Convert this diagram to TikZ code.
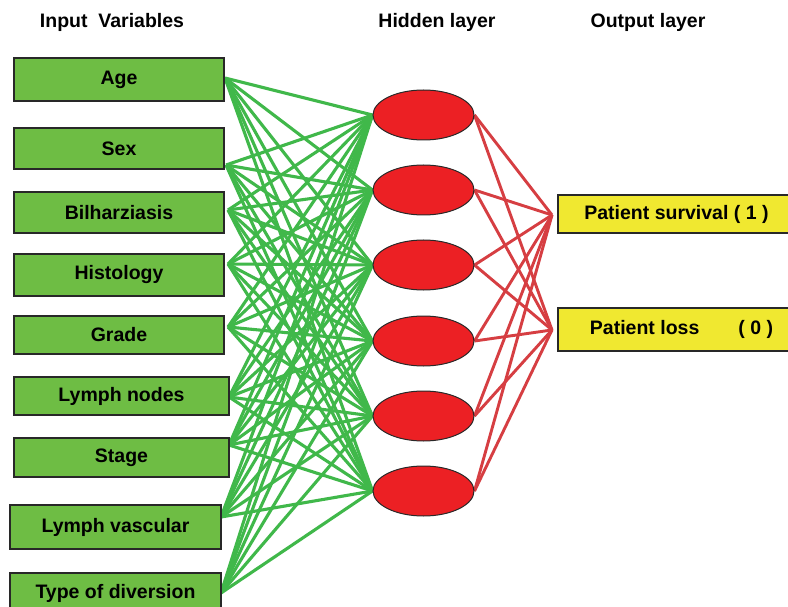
\documentclass[tikz,border=0pt]{standalone}
\usepackage{fontspec}
\setmainfont{Liberation Sans}
\usetikzlibrary{shapes.geometric}
\pgfdeclarelayer{bg}
\pgfsetlayers{bg,main}
\definecolor{boxgreen}{RGB}{110,189,68}
\definecolor{linegreen}{RGB}{64,184,74}
\definecolor{hidred}{RGB}{236,32,36}
\definecolor{linered}{RGB}{214,62,66}
\definecolor{outyellow}{RGB}{240,232,48}
\definecolor{edgedark}{RGB}{40,40,40}
\tikzset{
  lbl/.style={font=\fontsize{19.5}{22}\selectfont\bfseries, text=black, inner sep=0pt},
  inbox/.style={lbl, draw=edgedark, line width=1.2pt, fill=boxgreen, rectangle},
  outbox/.style={lbl, draw=edgedark, line width=1.2pt, fill=outyellow, rectangle},
  hid/.style={ellipse, draw=edgedark, line width=1pt, fill=hidred, minimum width=101pt, minimum height=50pt, inner sep=0pt},
  gline/.style={draw=linegreen, line width=3.1pt},
  rline/.style={draw=linered, line width=2.9pt},
  hdr/.style={lbl}
}
\begin{document}
\begin{tikzpicture}[x=1pt,y=-1pt]
\useasboundingbox (0,0) rectangle (788,607);
% headers
\node[hdr] (hin) at (112,22) {Input\ \ Variables};
\node[hdr] (hhid) at (437,22) {Hidden layer};
\node[hdr] (hout) at (648,22) {Output layer};
% input boxes
\node[inbox, minimum width=210pt, minimum height=43pt] (age) at (119,79.5) {Age};
\node[inbox, minimum width=210pt, minimum height=41pt] (sex) at (119,148.5) {Sex};
\node[inbox, minimum width=210pt, minimum height=41pt] (bil) at (119,212.5) {Bilharziasis};
\node[inbox, minimum width=210pt, minimum height=42pt] (his) at (119,275) {Histology};
\node[inbox, minimum width=210pt, minimum height=38pt] (gra) at (119,335) {Grade};
\node[inbox, minimum width=215pt, minimum height=38pt] (lyn) at (121.5,396) {Lymph nodes};
\node[inbox, minimum width=215pt, minimum height=39pt] (sta) at (121.5,457.5) {Stage};
\node[inbox, minimum width=211pt, minimum height=44pt] (lyv) at (115.5,527) {Lymph vascular};
\node[inbox, minimum width=211pt, minimum height=40pt] (typ) at (115.5,593) {Type of diversion};
% ports on input boxes
\coordinate (p1) at (225,78);
\coordinate (p2) at (226,165);
\coordinate (p3) at (228,210);
\coordinate (p4) at (228,264);
\coordinate (p5) at (228,327);
\coordinate (p6) at (229,397);
\coordinate (p7) at (229,445);
\coordinate (p8) at (221,517);
\coordinate (p9) at (221,593);
% hidden
\node[hid] (h1) at (423.5,115) {};
\node[hid] (h2) at (423.5,190) {};
\node[hid] (h3) at (423.5,265) {};
\node[hid] (h4) at (423.5,341) {};
\node[hid] (h5) at (423.5,416) {};
\node[hid] (h6) at (423.5,491) {};
% outputs
\node[outbox, minimum width=237pt, minimum height=38pt] (surv) at (676.5,214) {Patient survival ( 1 )};
\node[outbox, minimum width=237pt, minimum height=43pt] (loss) at (676.5,329.5) {\hspace{10pt}Patient loss\hspace{39pt}( 0 )};
\coordinate (q1) at (552,215);
\coordinate (q2) at (552,330);
\begin{pgfonlayer}{bg}
\fill[white] (0,0) rectangle (788,607);
\foreach \i in {1,...,9}{
  \foreach \j in {1,...,6}{
    \draw[gline] (p\i) -- (h\j.west);
  }
}
\foreach \j in {1,...,6}{
  \draw[rline] (h\j.east) -- (q1);
  \draw[rline] (h\j.east) -- (q2);
}
\end{pgfonlayer}
\end{tikzpicture}
\end{document}
